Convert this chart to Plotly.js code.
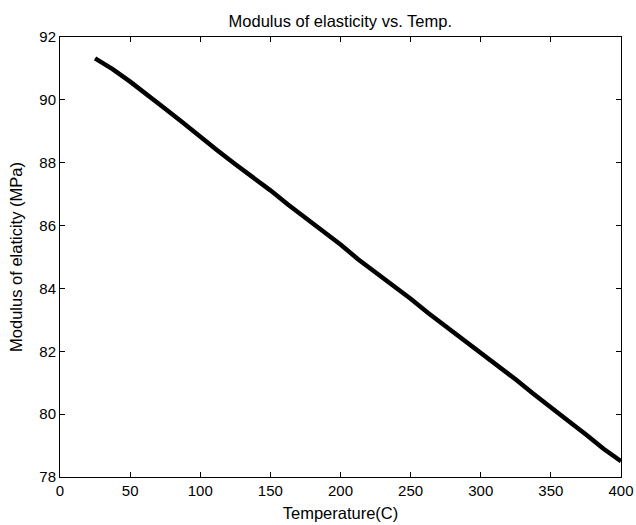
<!DOCTYPE html>
<html>
<head>
<meta charset="utf-8">
<script src="https://cdn.plot.ly/plotly-3.0.1.min.js"></script>
<style>html,body{margin:0;padding:0;background:#fff;}#chart{width:636px;height:525px;}</style>
</head>
<body>
<div id="chart"></div>
<script>
const temperature = [25, 37.5, 50, 62.5, 75, 87.5, 100, 112.5, 125, 137.5, 150, 162.5, 175, 187.5, 200, 212.5, 225, 237.5, 250, 262.5, 275, 287.5, 300, 312.5, 325, 337.5, 350, 362.5, 375, 387.5, 400];
const modulus = [91.32, 90.98, 90.58, 90.17, 89.72, 89.28, 88.82, 88.38, 87.95, 87.55, 87.12, 86.67, 86.25, 85.80, 85.40, 84.93, 84.52, 84.08, 83.67, 83.22, 82.80, 82.38, 81.97, 81.55, 81.10, 80.65, 80.20, 79.78, 79.35, 78.90, 78.50];
const xTicks = [0, 50, 100, 150, 200, 250, 300, 350, 400];
const yTicks = [78, 80, 82, 84, 86, 88, 90, 92];

const font = {family: 'Liberation Sans, Arial, sans-serif', size: 15, color: '#000'};
const titleFont = {family: 'Liberation Sans, Arial, sans-serif', size: 16.5, color: '#000'};
const trace = {
  x: temperature, y: modulus, type: 'scatter', mode: 'lines',
  line: {color: '#000', width: 4.5}
};
const axisCommon = {
  showline: true, linecolor: '#000', linewidth: 1, mirror: 'ticks',
  ticks: 'inside', ticklen: 5, tickcolor: '#000', tickwidth: 1,
  showgrid: false, zeroline: false, tickfont: font, automargin: false
};
const layout = {
  width: 636, height: 525,
  margin: {l: 60, r: 15, t: 37, b: 48},
  paper_bgcolor: '#fff', plot_bgcolor: '#fff',
  font: font, showlegend: false,
  title: {text: 'Modulus of elasticity vs. Temp.', font: titleFont, x: 0.535, xanchor: 'center', y: 1 - 21/525, yanchor: 'middle', yref: 'container'},
  xaxis: Object.assign({}, axisCommon, {
    range: [0, 400], tickvals: xTicks,
    title: {text: 'Temperature(C)', font: titleFont, standoff: 9}
  }),
  yaxis: Object.assign({}, axisCommon, {
    range: [78, 92], tickvals: yTicks,
    title: {text: 'Modulus of elaticity (MPa)', font: titleFont, standoff: 12}
  })
};
Plotly.newPlot('chart', [trace], layout, {displayModeBar: false, staticPlot: true});
</script>
</body>
</html>
